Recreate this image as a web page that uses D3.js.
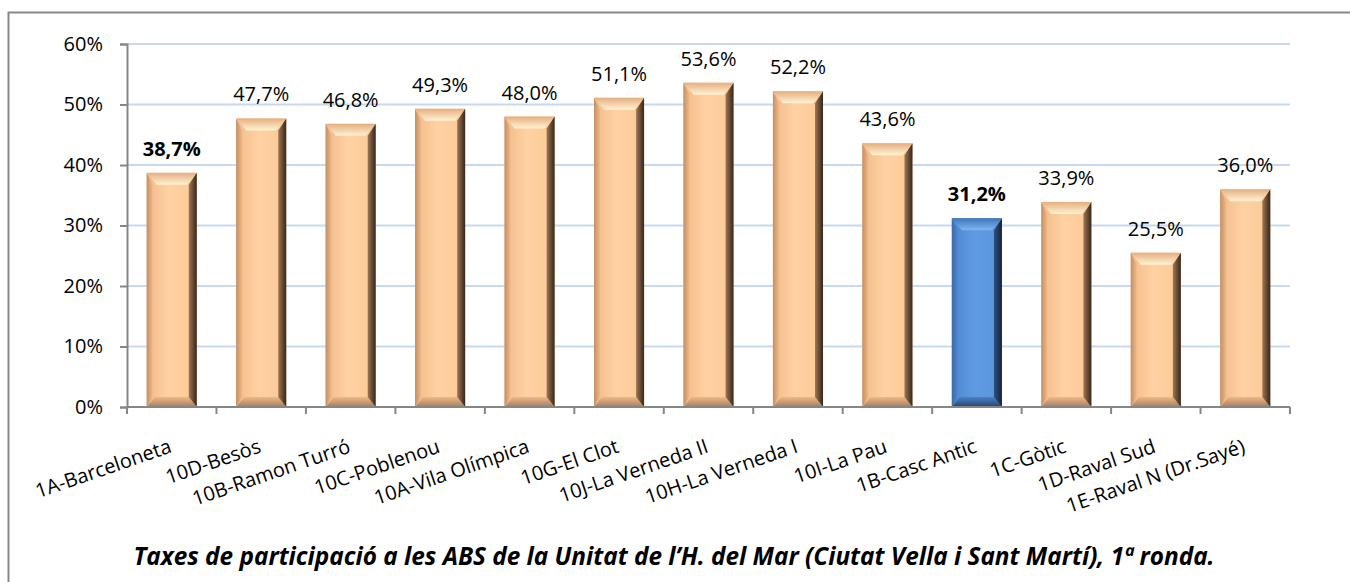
<!DOCTYPE html>
<html><head><meta charset="utf-8">
<script src="https://cdn.jsdelivr.net/npm/d3@7"></script>
<style>body{margin:0;background:#fff}svg{display:block}text{font-family:"Open Sans",Lato,sans-serif}</style>
</head><body><svg id="c" width="1350" height="582"></svg>
<script>
const categories = ["1A-Barceloneta","10D-Besòs","10B-Ramon Turró","10C-Poblenou","10A-Vila Olímpica","10G-El Clot","10J-La Verneda II","10H-La Verneda I","10I-La Pau","1B-Casc Antic","1C-Gòtic","1D-Raval Sud","1E-Raval N (Dr.Sayé)"];
const values = [38.7,47.7,46.8,49.3,48.0,51.1,53.6,52.2,43.6,31.2,33.9,25.5,36.0];
const boldLabels = ["1A-Barceloneta","1B-Casc Antic"];
const blueBars = ["1B-Casc Antic"];
const yTicks = [0,10,20,30,40,50,60];
const title = "Taxes de participació a les ABS de la Unitat de l\u2019H. del Mar (Ciutat Vella i Sant Martí), 1ª ronda.";

const svg = d3.select("#c");
const L = 127, R = 1290, T = 44, B = 407;
const FS = 20;
const x = d3.scaleBand().domain(categories).range([L, R]).paddingInner(0.44).paddingOuter(0.22);
const y = d3.scaleLinear().domain([0, 60]).range([B, T]);
const fmt = v => v.toFixed(1).replace(".", ",") + "%";

// outer border
svg.append("rect").attr("x", 8.5).attr("y", 12.5).attr("width", 1400).attr("height", 600)
  .attr("fill", "none").attr("stroke", "#878787").attr("stroke-width", 2);

// gradients
const defs = svg.append("defs");
function lin(id, stops, x1, y1, x2, y2) {
  const g = defs.append("linearGradient").attr("id", id)
    .attr("x1", x1).attr("y1", y1).attr("x2", x2).attr("y2", y2);
  stops.forEach(s => g.append("stop").attr("offset", s[0]).attr("stop-color", s[1]));
}
const schemes = {
  tan: {face:["#f2bb8a","#ffd1a3","#fbc996"], top:["#e6ae80","#fff3d2"], left:["#c48f64","#f0b989"], right:["#a07654","#35261a"], bot:["#efb986","#a57e5e"]},
  blue:{face:["#4c86cf","#5f9be2","#5893dc"], top:["#3f74b8","#80b6f0"], left:["#3a6aa8","#4f88cf"], right:["#2e5283","#13233a"], bot:["#4a82c8","#27446d"]}
};
Object.entries(schemes).forEach(([k, s]) => {
  lin(k+"face", [[0,s.face[0]],[0.45,s.face[1]],[1,s.face[2]]], 0,0,1,0);
  lin(k+"top", [[0,s.top[0]],[1,s.top[1]]], 0,0,0,1);
  lin(k+"left", [[0,s.left[0]],[1,s.left[1]]], 0,0,1,0);
  lin(k+"right", [[0,s.right[0]],[1,s.right[1]]], 0,0,1,0);
  lin(k+"bot", [[0,s.bot[0]],[1,s.bot[1]]], 0,0,0,1);
});

// gridlines
svg.append("g").selectAll("line").data(yTicks.filter(t => t > 0)).join("line")
  .attr("x1", L).attr("x2", R).attr("y1", d => y(d)).attr("y2", d => y(d))
  .attr("stroke", "#c6d9f0").attr("stroke-width", 2);

// y axis
const ya = svg.append("g").attr("transform", `translate(${L},0)`)
  .call(d3.axisLeft(y).tickValues(yTicks).tickFormat(d => d + "%").tickSize(7).tickPadding(17));
ya.select(".domain").attr("stroke", "#868686").attr("stroke-width", 2);
ya.selectAll(".tick line").attr("stroke", "#868686").attr("stroke-width", 2);
ya.selectAll(".tick text").attr("font-size", FS).attr("fill", "#000").attr("font-family", "Open Sans");

// bars
const bars = svg.append("g").selectAll("g").data(categories).join("g");
bars.each(function(c, i) {
  const g = d3.select(this);
  const k = blueBars.includes(c) ? "blue" : "tan";
  const x0 = x(c), w = x.bandwidth(), x1 = x0 + w;
  const y0 = y(values[i]), y1 = y(0);
  const b = Math.min(10, (y1 - y0) / 2), bs = 8;
  g.append("rect").attr("x", x0).attr("y", y0).attr("width", w).attr("height", y1 - y0).attr("fill", `url(#${k}face)`);
  g.append("polygon").attr("points", [[x0,y0],[x1,y0],[x1-bs-2,y0+b+2],[x0+bs+2,y0+b+2]].join(" ")).attr("fill", `url(#${k}top)`);
  g.append("polygon").attr("points", [[x0,y1],[x1,y1],[x1-bs,y1-b],[x0+bs,y1-b]].join(" ")).attr("fill", `url(#${k}bot)`);
  g.append("polygon").attr("points", [[x0,y0],[x0+bs-2,y0+b+2],[x0+bs-2,y1-b],[x0,y1]].join(" ")).attr("fill", `url(#${k}left)`);
  g.append("polygon").attr("points", [[x1,y0],[x1-bs,y0+b+2],[x1-bs,y1-b],[x1,y1]].join(" ")).attr("fill", `url(#${k}right)`);
  g.append("text").attr("x", x0 + w / 2).attr("y", y0 - 17).attr("text-anchor", "middle")
    .attr("font-size", FS).attr("font-weight", boldLabels.includes(c) ? "bold" : "normal")
    .text(fmt(values[i]));
});

// x axis
const bandStarts = categories.map(c => x(c) - x.step() * x.paddingInner() / 2);
const xa = svg.append("g");
xa.append("line").attr("x1", L).attr("x2", R).attr("y1", B).attr("y2", B).attr("stroke", "#868686").attr("stroke-width", 2);
xa.selectAll("line.t").data(bandStarts.concat([R])).join("line").attr("class", "t")
  .attr("x1", d => d).attr("x2", d => d).attr("y1", B).attr("y2", B + 7)
  .attr("stroke", "#868686").attr("stroke-width", 2);
xa.selectAll("text").data(categories).join("text")
  .attr("transform", c => `translate(${x(c) + x.bandwidth() / 2 + 1},${B + 45}) rotate(-19)`)
  .attr("text-anchor", "end").attr("font-size", FS).text(c => c);

// title
const tt = svg.append("text").attr("x", 674).attr("y", 565).attr("text-anchor", "middle")
  .attr("font-size", 20).attr("font-weight", "bold").attr("font-style", "italic").text(title);
const tw = tt.node().getComputedTextLength();
tt.attr("font-size", 20 * 1082 / tw);
</script></body></html>
